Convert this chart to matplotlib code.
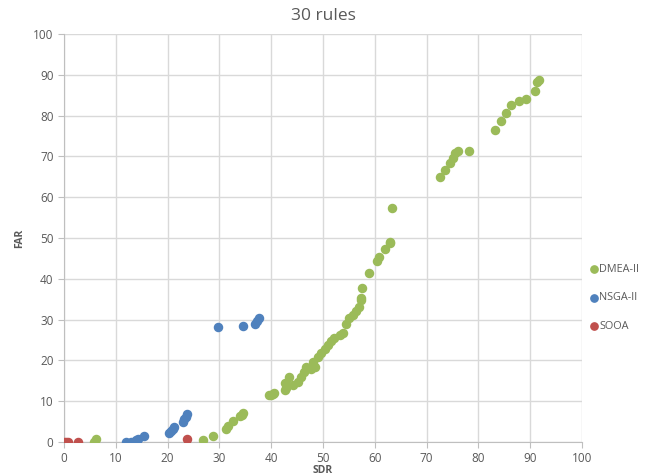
import matplotlib.pyplot as plt

# data
dmea_sdr = [5.8, 6.25, 26.8, 28.8, 31.3, 31.7, 32.6, 34.0, 34.6, 34.3,
            39.6, 40.0, 40.3, 40.6, 42.6, 42.6, 42.9, 43.4, 44.2, 45.1,
            45.8, 46.4, 46.7, 47.7, 48.4, 48.0, 49.0, 49.6, 50.3, 50.9,
            51.6, 52.2, 53.2, 53.8, 54.4, 55.1, 55.8, 56.4, 56.9, 57.3,
            57.4, 57.6, 58.8, 60.4, 60.9, 61.9, 62.9, 63.0, 63.4,
            72.5, 73.5, 74.5, 75.0, 75.4, 76.1, 78.2,
            83.2, 84.3, 85.4, 86.2, 87.8, 89.2, 90.9, 91.4, 91.7]
dmea_far = [0.0, 0.7, 0.5, 1.5, 3.1, 3.8, 5.2, 6.4, 7.0, 6.6,
            11.5, 11.5, 11.8, 12.0, 12.7, 14.4, 13.3, 15.9, 14.0, 14.8,
            16.0, 17.2, 18.3, 18.0, 18.5, 19.7, 20.9, 21.9, 22.7, 23.8,
            24.8, 25.4, 26.2, 26.6, 28.9, 30.3, 31.1, 32.2, 33.2, 34.8,
            35.3, 37.7, 41.5, 44.4, 45.4, 47.2, 48.7, 49.1, 57.3,
            65.0, 66.7, 68.3, 69.5, 70.8, 71.4, 71.4,
            76.5, 78.7, 80.7, 82.6, 83.7, 84.1, 86.0, 88.3, 88.7]

nsga_sdr = [12.0, 12.9, 13.9, 14.3, 15.5, 20.3, 20.7, 21.0, 21.3,
            22.9, 23.2, 23.5, 23.7, 29.8, 34.5, 36.8, 37.2, 37.7]
nsga_far = [0.0, 0.1, 0.5, 0.8, 1.5, 2.2, 2.8, 3.3, 3.7,
            5.0, 5.6, 6.2, 6.8, 28.1, 28.4, 28.9, 29.6, 30.4]

sooa_sdr = [0.0, 0.4, 0.8, 2.7, 23.7]
sooa_far = [0.0, 0.0, 0.0, 0.0, 0.7]

plt.rcParams['font.family'] = ['Open Sans', 'DejaVu Sans']
txt = '#595959'

fig = plt.figure(figsize=(6.58, 4.76), dpi=100)
ax = fig.add_axes([64 / 658, 34 / 476, 518 / 658, 408 / 476])

ax.scatter(dmea_sdr, dmea_far, s=34, color='#9BBB59', label='DMEA-II', zorder=3)
ax.scatter(nsga_sdr, nsga_far, s=34, color='#4F81BD', label='NSGA-II', zorder=3)
ax.scatter(sooa_sdr, sooa_far, s=34, color='#C0504D', label='SOOA', zorder=3)

ax.set_xlim(0, 100)
ax.set_ylim(0, 100)
ax.set_xticks(range(0, 101, 10))
ax.set_yticks(range(0, 101, 10))
ax.grid(True, color='#d9d9d9', linewidth=1)
ax.set_axisbelow(True)
for s in ['top', 'right']:
    ax.spines[s].set_visible(False)
for s in ['left', 'bottom']:
    ax.spines[s].set_color('#bfbfbf')
ax.tick_params(colors='#bfbfbf', labelcolor=txt, labelsize=8.5, length=4)

ax.set_title('30 rules', fontsize=12.5, color=txt, pad=10)
ax.set_xlabel('SDR', fontsize=7.5, color=txt, labelpad=0, fontweight='bold')
ax.set_ylabel('FAR', fontsize=7.5, color=txt, labelpad=6, fontweight='bold')

leg = ax.legend(loc='center left', bbox_to_anchor=(1.01, 0.353), frameon=False,
                fontsize=7.8, handletextpad=-0.1, labelspacing=1.6, markerscale=0.9,
                borderpad=0, borderaxespad=0, handlelength=1.2)
for t in leg.get_texts():
    t.set_color(txt)

fig.savefig('out.png', dpi=100)
